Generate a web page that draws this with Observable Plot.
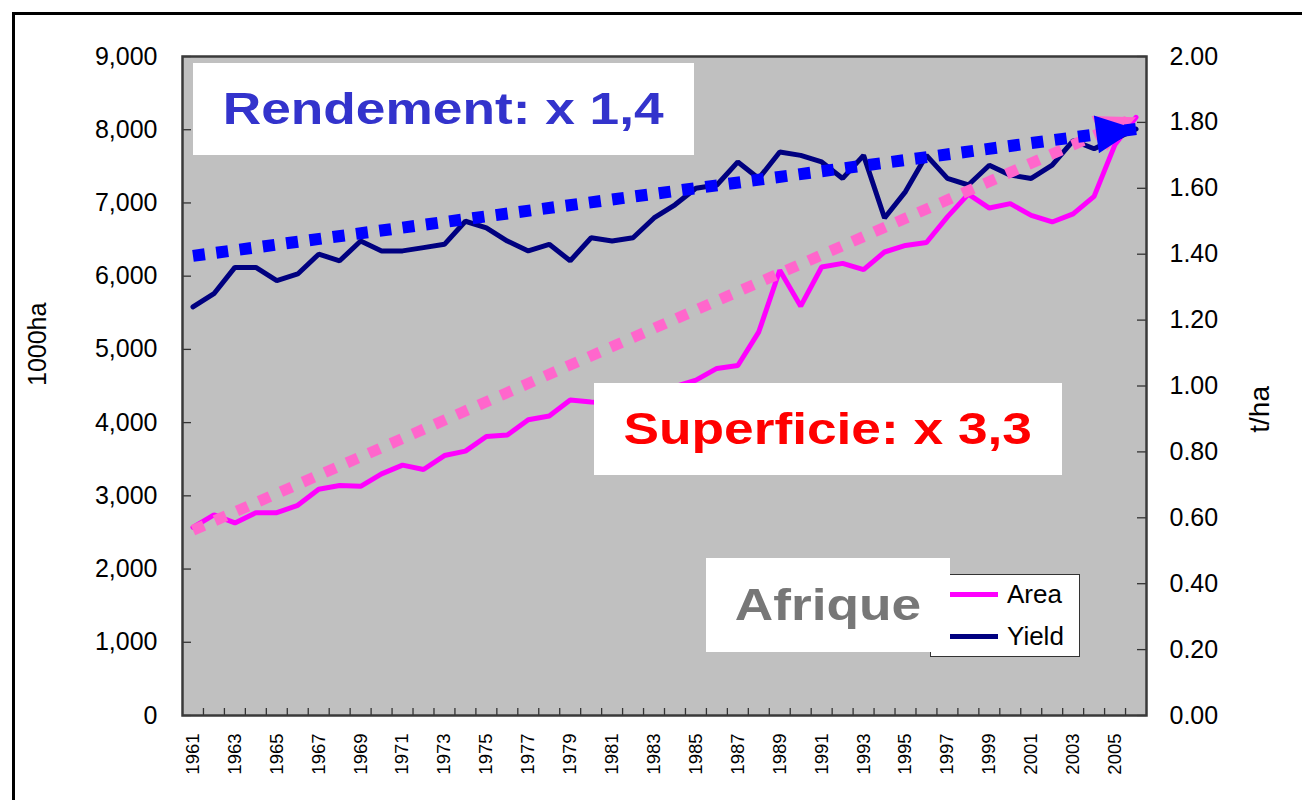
<!DOCTYPE html>
<html><head><meta charset="utf-8">
<script src="https://cdn.jsdelivr.net/npm/d3@7"></script>
<script src="https://cdn.jsdelivr.net/npm/@observablehq/plot@0.6"></script>
<style>
html,body{margin:0;padding:0;background:#fff;}
#wrap{position:relative;width:1302px;height:800px;overflow:hidden;font-family:"Liberation Sans",Arial,sans-serif;}
#frame{position:absolute;left:12px;top:12px;width:1400px;height:900px;border-top:3px solid #000;border-left:3px solid #000;box-sizing:border-box;}
#chart{position:absolute;left:0;top:0;}
.box{position:absolute;background:#fff;display:flex;align-items:center;justify-content:center;}
.box span{font-weight:bold;font-size:44px;display:inline-block;transform:scaleX(1.21);white-space:nowrap;}
#legend{position:absolute;left:930px;top:574px;width:150px;height:83px;background:#fff;border:1px solid #333;box-sizing:border-box;}
.lg{position:absolute;left:19px;display:flex;align-items:center;font-size:26px;color:#000;}
.lg i{display:inline-block;width:48px;height:5px;margin-right:9px;}
</style>
</head><body>
<div id="wrap">
  <div id="chart"></div>
  <div id="frame"></div>
  <div class="box" style="left:193px;top:63px;width:501px;height:92px;"><span id="t1" style="color:#3333cc">Rendement: x 1,4</span></div>
  <div class="box" style="left:594px;top:383px;width:468px;height:92px;"><span id="t2" style="color:#ff0000">Superficie: x 3,3</span></div>
  <div id="legend">
    <div class="lg" style="top:4px;"><i style="background:#ff00ff"></i><span id="lgA"></span></div>
    <div class="lg" style="top:46px;"><i style="background:#000080"></i><span id="lgY"></span></div>
  </div>
  <div class="box" style="left:706px;top:558px;width:244px;height:94px;"><span id="t3" style="color:#777777">Afrique</span></div>
</div>
<script>
// ---- data ----
const years = [1961,1962,1963,1964,1965,1966,1967,1968,1969,1970,1971,1972,1973,1974,1975,1976,1977,1978,1979,1980,
  1981,1982,1983,1984,1985,1986,1987,1988,1989,1990,1991,1992,1993,1994,1995,1996,1997,1998,1999,2000,
  2001,2002,2003,2004,2005,2006];
const areaValues = [2570,2740,2630,2770,2770,2870,3090,3140,3130,3300,3420,3360,3550,3610,3810,3830,4040,4090,4310,4280,
  4270,4330,4410,4490,4580,4740,4780,5240,6080,5590,6125,6175,6090,6330,6420,6460,6810,7120,6930,6990,
  6830,6740,6850,7090,7800,8170];
const yieldValues = [1.24,1.28,1.36,1.36,1.32,1.34,1.40,1.38,1.44,1.41,1.41,1.42,1.43,1.50,1.48,1.44,1.41,1.43,1.38,1.45,
  1.44,1.45,1.51,1.55,1.60,1.61,1.68,1.63,1.71,1.70,1.68,1.63,1.70,1.51,1.59,1.70,1.63,1.61,1.67,1.64,
  1.63,1.67,1.745,1.72,1.75,1.78];
const seriesNames = ["Area","Yield"];
const leftTicks = [0,1000,2000,3000,4000,5000,6000,7000,8000,9000];
const rightTicks = [0,0.2,0.4,0.6,0.8,1.0,1.2,1.4,1.6,1.8,2.0];
const xTickLabels = [1961,1963,1965,1967,1969,1971,1973,1975,1977,1979,1981,1983,1985,1987,1989,1991,1993,1995,1997,1999,2001,2003,2005];
const trendYears = [1961,2006];
const areaTrendValues = [2530,8170];
const yieldTrendValues = [1.395,1.78];
const leftLabel = "1000ha", rightLabel = "t/ha";

document.getElementById("lgA").textContent = seriesNames[0];
document.getElementById("lgY").textContent = seriesNames[1];

// ---- layout ----
const W=1302,H=800,mL=182,mR=156,mT=56,mB=85;
const plotW=W-mL-mR, plotH=H-mT-mB;
const K = 9000/2; // right axis (t/ha) to left axis units
const pxPerYear = plotW/years.length, pxPerUnit = plotH/9000;

const data = years.map((yr,i)=>({year:yr, area:areaValues[i], yld:yieldValues[i]*K}));
const areaTrend = trendYears.map((yr,i)=>({year:yr, v:areaTrendValues[i]}));
const yieldTrend = trendYears.map((yr,i)=>({year:yr, v:yieldTrendValues[i]*K}));
const boundaries = years.slice(1).map(y=>y-0.5);

function angleOf(tr){
  const dx=(tr[1].year-tr[0].year)*pxPerYear, dy=-(tr[1].v-tr[0].v)*pxPerUnit;
  return Math.atan2(dy,dx)*180/Math.PI;
}
const arrowHead = (L,Wd)=>({draw(ctx){ctx.moveTo(0,0);ctx.lineTo(Wd/2,L);ctx.lineTo(-Wd/2,L);ctx.closePath();}});

const font = "'Liberation Sans', Arial, sans-serif";
const chart = Plot.plot({
  width:W,height:H,marginLeft:mL,marginRight:mR,marginTop:mT,marginBottom:mB,
  style:{fontFamily:font,background:"transparent",color:"#000",overflow:"visible"},
  x:{type:"linear",domain:[1960.5,2006.5]},
  y:{domain:[0,9000]},
  marks:[
    Plot.frame({fill:"#c0c0c0",stroke:null}),
    Plot.tickY(leftTicks,{y:d=>d,stroke:"#333",strokeWidth:1.3,insetRight:plotW-9}),
    Plot.tickY(rightTicks,{y:d=>d*K,stroke:"#333",strokeWidth:1.3,insetLeft:plotW-9}),
    Plot.tickX(boundaries,{x:d=>d,stroke:"#333",strokeWidth:1.3,insetTop:plotH-7}),
    Plot.frame({stroke:"#3a3a3a",strokeWidth:2.5}),
    Plot.axisY({ticks:leftTicks,anchor:"left",tickSize:0,tickPadding:25,tickFormat:d3.format(","),fontSize:25,label:null}),
    Plot.axisY({ticks:rightTicks.map(t=>t*K),anchor:"right",tickSize:0,tickPadding:23,tickFormat:d=>(d/K).toFixed(2),fontSize:25,label:null}),
    Plot.axisX({ticks:xTickLabels,anchor:"bottom",tickSize:0,tickPadding:18,tickRotate:-90,tickFormat:d=>String(d),fontSize:18.5,label:null}),
    Plot.text([leftLabel],{text:d=>d,frameAnchor:"left",dx:-145,rotate:-90,fontSize:25}),
    Plot.text([rightLabel],{text:d=>d,frameAnchor:"right",dx:114,rotate:-90,fontSize:28}),
    Plot.line(data,{x:"year",y:"area",stroke:"#ff00ff",strokeWidth:5,strokeLinejoin:"miter"}),
    Plot.line(data,{x:"year",y:"yld",stroke:"#000080",strokeWidth:5,strokeLinejoin:"miter"}),
    Plot.line(areaTrend,{x:"year",y:"v",stroke:"#ff66cc",strokeWidth:11,strokeDasharray:"12,12",strokeLinecap:"butt"}),
    Plot.dot([areaTrend[1]],{x:"year",y:"v",r:10,symbol:arrowHead(40,38),rotate:90+angleOf(areaTrend),fill:"#ff66cc",stroke:"none"}),
    Plot.line(yieldTrend,{x:"year",y:"v",stroke:"#0000ff",strokeWidth:12,strokeDasharray:"12,11.5",strokeLinecap:"butt"}),
    Plot.dot([yieldTrend[1]],{x:"year",y:"v",r:10,symbol:arrowHead(40,38),rotate:90+angleOf(yieldTrend),fill:"#0000ff",stroke:"none"})
  ]
});
document.getElementById("chart").appendChild(chart);
</script>
</body></html>
